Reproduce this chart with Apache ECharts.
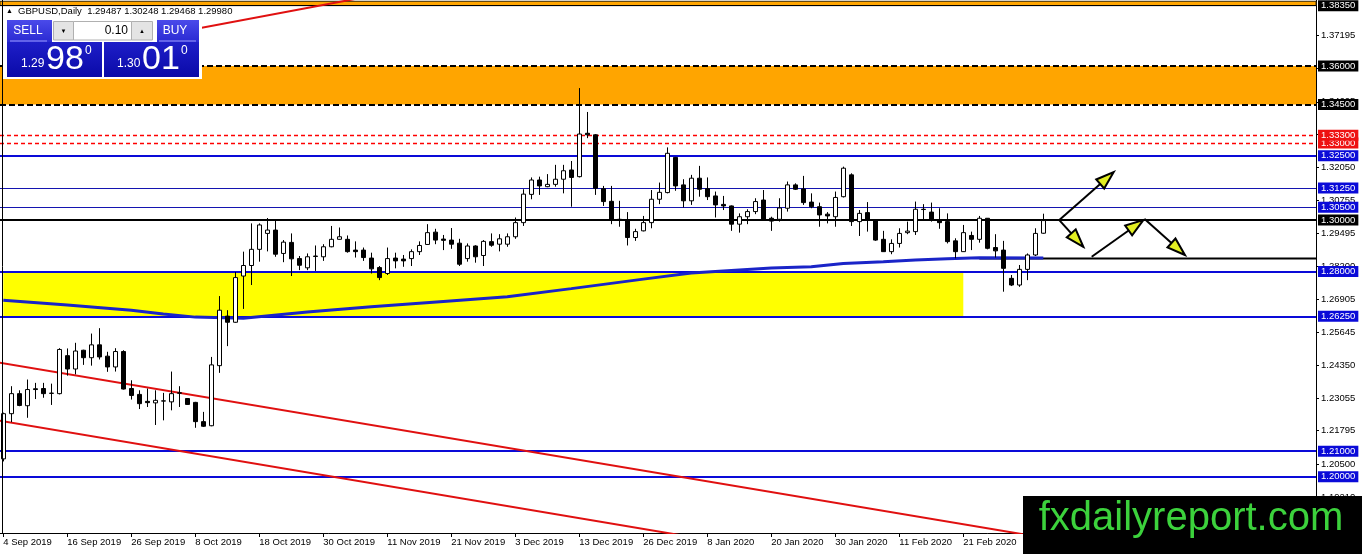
<!DOCTYPE html>
<html><head><meta charset="utf-8">
<script src="https://cdn.jsdelivr.net/npm/echarts@6/dist/echarts.min.js"></script>
<style>html,body{margin:0;padding:0;background:#fff}#c{width:1362px;height:554px}</style>
</head><body><div id="c"></div>
<script>
// ---------- data ----------
const dateLabels = ["4 Sep 2019","16 Sep 2019","26 Sep 2019","8 Oct 2019","18 Oct 2019","30 Oct 2019","11 Nov 2019","21 Nov 2019","3 Dec 2019","13 Dec 2019","26 Dec 2019","8 Jan 2020","20 Jan 2020","30 Jan 2020","11 Feb 2020","21 Feb 2020"];
const tickBars = [0,8,16,24,32,40,48,56,64,72,80,88,96,104,112,120];

const opens = [
1.2070,1.2246,1.2324,1.2277,1.2343,1.2344,1.2325,1.2324,1.2472,1.2420,
1.2493,1.2464,1.2514,1.2470,1.2428,1.2488,1.2344,1.2321,1.2294,1.2288,
1.2295,1.2292,1.2327,1.2305,1.2290,1.2215,1.2199,1.2433,1.2626,1.2602,
1.2782,1.2823,1.2886,1.2948,1.2961,1.2870,1.2913,1.2850,1.2814,1.2858,
1.2857,1.2896,1.2925,1.2925,1.2883,1.2883,1.2852,1.2815,1.2792,1.2852,
1.2848,1.2850,1.2877,1.2905,1.2953,1.2926,1.2922,1.2910,1.2850,1.2899,
1.2862,1.2916,1.2906,1.2906,1.2935,1.2990,1.3100,1.3156,1.3130,1.3139,
1.3159,1.3195,1.3169,1.3338,1.3332,1.3122,1.3073,1.3003,1.3000,1.2932,
1.2958,1.2990,1.3081,1.3107,1.3244,1.3137,1.3075,1.3163,1.3122,1.3094,
1.3061,1.3055,1.2984,1.3013,1.3033,1.3078,1.3007,1.3003,1.3046,1.3137,
1.3121,1.3070,1.3052,1.3023,1.3013,1.3091,1.3176,1.2994,1.3029,1.3000,
1.2925,1.2877,1.2909,1.2951,1.2955,1.3042,1.3031,1.3000,1.2994,1.2919,
1.2877,1.2940,1.2925,1.3007,1.2893,1.2883,1.2773,1.2747,1.2808,1.2864,
1.29487];
const highs = [
1.2250,1.2353,1.2337,1.2379,1.2366,1.2366,1.2363,1.2501,1.2500,1.2522,
1.2495,1.2558,1.2579,1.2487,1.2501,1.2493,1.2376,1.2337,1.2344,1.2337,
1.2327,1.2410,1.2353,1.2307,1.2292,1.2253,1.2467,1.2704,1.2649,1.2798,
1.2877,1.2987,1.2987,1.3008,1.3000,1.2922,1.2948,1.2860,1.2870,1.2901,
1.2906,1.2977,1.2971,1.2940,1.2917,1.2893,1.2873,1.2821,1.2893,1.2873,
1.2864,1.2886,1.2917,1.2984,1.2966,1.2942,1.2969,1.2927,1.2909,1.2902,
1.2922,1.2948,1.2945,1.2948,1.3010,1.3120,1.3166,1.3169,1.3179,1.3215,
1.3215,1.3230,1.3514,1.3421,1.3335,1.3133,1.3133,1.3075,1.3031,1.2966,
1.3016,1.3117,1.3146,1.3283,1.3246,1.3159,1.3176,1.3211,1.3166,1.3111,
1.3094,1.3057,1.3026,1.3042,1.3085,1.3117,1.3013,1.3085,1.3150,1.3143,
1.3172,1.3104,1.3068,1.3031,1.3111,1.3208,1.3182,1.3039,1.3070,1.3002,
1.2958,1.2925,1.2968,1.2994,1.3072,1.3062,1.3068,1.3046,1.3026,1.2929,
1.2981,1.2955,1.3016,1.3008,1.2945,1.2919,1.2786,1.2825,1.2870,1.2968,
1.30248];
const lows = [
1.2060,1.2213,1.2275,1.2230,1.2303,1.2308,1.2280,1.2321,1.2394,1.2399,
1.2436,1.2433,1.2457,1.2409,1.2410,1.2340,1.2301,1.2264,1.2272,1.2202,
1.2220,1.2259,1.2272,1.2280,1.2191,1.2194,1.2197,1.2405,1.2509,1.2600,
1.2654,1.2747,1.2838,1.2878,1.2857,1.2836,1.2782,1.2805,1.2805,1.2802,
1.2841,1.2894,1.2924,1.2873,1.2854,1.2841,1.2792,1.2766,1.2786,1.2812,
1.2818,1.2821,1.2864,1.2903,1.2906,1.2883,1.2888,1.2821,1.2838,1.2834,
1.2821,1.2896,1.2878,1.2896,1.2927,1.2977,1.3081,1.3098,1.3128,1.3130,
1.3104,1.3052,1.3166,1.3319,1.3098,1.3055,1.2984,1.2974,1.2901,1.2919,
1.2956,1.2968,1.3062,1.3104,1.3114,1.3049,1.3059,1.3091,1.3078,1.3010,
1.3039,1.2958,1.2951,1.2984,1.3023,1.3000,1.2958,1.2994,1.3033,1.3117,
1.3059,1.3046,1.2974,1.2987,1.2974,1.3088,1.2977,1.2938,1.2955,1.2919,
1.2876,1.2867,1.2893,1.2945,1.2942,1.3003,1.2994,1.2966,1.2909,1.2851,
1.2876,1.2883,1.2912,1.2886,1.2854,1.2721,1.2743,1.2740,1.2766,1.2860,
1.29468];
const closes = [
1.2246,1.2324,1.2278,1.2340,1.2340,1.2324,1.2326,1.2496,1.2420,1.2490,
1.2464,1.2514,1.2467,1.2428,1.2488,1.2342,1.2317,1.2285,1.2289,1.2298,
1.2296,1.2324,1.2326,1.2282,1.2215,1.2197,1.2436,1.2649,1.2602,1.2776,
1.2823,1.2886,1.2981,1.2961,1.2867,1.2914,1.2849,1.2824,1.2857,1.2860,
1.2896,1.2925,1.2935,1.2877,1.2877,1.2854,1.2810,1.2776,1.2850,1.2841,
1.2841,1.2877,1.2901,1.2951,1.2922,1.2921,1.2906,1.2828,1.2899,1.2857,
1.2917,1.2902,1.2927,1.2935,1.2990,1.3101,1.3156,1.3133,1.3139,1.3159,
1.3192,1.3166,1.3335,1.3332,1.3124,1.3072,1.3003,1.3000,1.2932,1.2955,
1.2990,1.3081,1.3108,1.3260,1.3133,1.3075,1.3163,1.3120,1.3091,1.3059,
1.3055,1.2984,1.3013,1.3033,1.3072,1.3003,1.2996,1.3047,1.3137,1.3120,
1.3068,1.3052,1.3020,1.3016,1.3088,1.3202,1.2994,1.3026,1.3000,1.2922,
1.2877,1.2909,1.2948,1.2957,1.3042,1.3041,1.3000,1.2990,1.2916,1.2877,
1.2951,1.2925,1.3007,1.2890,1.2880,1.2812,1.2747,1.2808,1.2864,1.2948,
1.29980];

// moving average read at sample bars [bar, price]
const maPoints = [[0,1.2688],[8,1.2669],[16,1.2649],[20,1.2634],[24,1.2622],[30,1.2618],[38,1.2642],[46,1.2662],[55,1.2683],[63,1.2701],[71,1.2733],[80,1.2770],[86,1.2794],[96,1.2813],[101,1.2818],[105,1.2831],[110,1.2838],[114,1.2844],[118,1.2849],[122,1.2853],[130,1.2852]];

const yTickValues = [1.19210,1.20500,1.21795,1.23055,1.24350,1.25645,1.26905,1.28200,1.29495,1.30755,1.32050,1.33340,1.34605,1.35900,1.37195];

const blackLevels = [1.3835, 1.30];
const dashedBlackLevels = [1.36, 1.345];
const redLevels = [1.330, 1.333];
const blueThickLevels = [1.325, 1.28, 1.2625, 1.21, 1.20];
const blueThinLevels = [1.3125, 1.305];

const topBand = [1.3835, 1.3852];
const orangeZone = [1.345, 1.36];
const yellowZoneBars = [0, 120];
const yellowZonePrices = [1.2625, 1.28];

const redTopLine = [[0,1.3604],[45,1.3867]];
const channelUpper = [[-1,1.24472],[130,1.17632]];
const channelLower = [[-1,1.22213],[90,1.17448]];
const supportLine = [[122,1.2850],[170,1.2850]];
const arrows = [[132.0,1.3000,138.8,1.3187],[132.0,1.3000,135.0,1.2896],[136.05,1.2857,142.5,1.3000],[142.7,1.3003,147.7,1.2864]];

// ---------- chart ----------
const FONT = 'Liberation Sans';
const XMIN = -0.4125, XMAX = XMIN + 1316/8;
const YMIN = 1.17813, YMAX = 1.38570;
const BLUE = '#0a0ad8';

const candleData = opens.map((o,i)=>[i, o, closes[i], lows[i], highs[i]]);

function lvl(p, color, width, type, bg){
  return {yAxis:p, lineStyle:{color:color, width:width, type:type, opacity:1}, label:{backgroundColor:bg}};
}
const markLines = [];
blackLevels.forEach(p=>markLines.push(lvl(p,'#000',p===1.30?2:1,'solid','#000')));
dashedBlackLevels.forEach(p=>markLines.push(lvl(p,'#000',2,[6,3],'#000')));
redLevels.forEach(p=>markLines.push(lvl(p,'#ff0000',1.3,[4,3],'#ee1111')));
blueThinLevels.forEach(p=>markLines.push(lvl(p,'#1414b0',1,'solid',BLUE)));
blueThickLevels.forEach(p=>markLines.push(lvl(p,BLUE,2,'solid',BLUE)));

function grad(a,b){return new echarts.graphic.LinearGradient(0,0,0,1,[{offset:0,color:a},{offset:1,color:b}]);}
function txt(t,x,y,size,color,align,extra){
  return Object.assign({type:'text', z:110, style:{text:t, x:x, y:y, fill:color, font:size+'px "'+FONT+'"', align:align||'left', verticalAlign:'middle'}}, extra||{});
}

const chart = echarts.init(document.getElementById('c'), null, {renderer:'canvas'});
chart.setOption({
  animation:false,
  backgroundColor:'#ffffff',
  grid:{left:0, right:46, top:0, bottom:21, containLabel:false},
  xAxis:{type:'value', min:XMIN, max:XMAX,
    axisLine:{show:true, onZero:false, lineStyle:{color:'#000', width:1}},
    axisTick:{show:true, length:4, customValues:tickBars, lineStyle:{color:'#000'}},
    axisLabel:{customValues:tickBars, align:'left', margin:4, color:'#000', fontSize:9.5, fontFamily:FONT,
      formatter:v=>dateLabels[tickBars.indexOf(Math.round(v))] || ''},
    splitLine:{show:false}},
  yAxis:{type:'value', position:'right', min:YMIN, max:YMAX,
    axisLine:{show:true, onZero:false, lineStyle:{color:'#000', width:1}},
    axisTick:{show:true, length:3, customValues:yTickValues, lineStyle:{color:'#000'}},
    axisLabel:{customValues:yTickValues, formatter:v=>v.toFixed(5), color:'#000', fontSize:9.5, fontFamily:FONT, margin:5},
    splitLine:{show:false}},
  series:[
    {type:'candlestick', name:'GBPUSD', z:4, silent:true, barWidth:4,
     data:candleData,
     itemStyle:{color:'#ffffff', color0:'#000000', borderColor:'#000000', borderColor0:'#000000', borderColorDoji:'#000000', borderWidth:1},
     markArea:{silent:true, z:1,
       data:[
         [{xAxis:XMIN, yAxis:orangeZone[0], itemStyle:{color:'#ffa500'}},{xAxis:XMAX, yAxis:orangeZone[1]}],
         [{xAxis:yellowZoneBars[0], yAxis:yellowZonePrices[0], itemStyle:{color:'#ffff00'}},{xAxis:yellowZoneBars[1], yAxis:yellowZonePrices[1]}],
         [{xAxis:XMIN, yAxis:topBand[0], itemStyle:{color:'#ffa500', borderColor:'#3a2a00', borderWidth:1}},{xAxis:XMAX, yAxis:topBand[1]}]
       ]},
     markLine:{silent:true, z:2, symbol:['none','none'], precision:5,
       label:{show:true, position:'end', distance:2, color:'#fff', fontSize:9.5, fontFamily:FONT, padding:[1,3,0,3],
         formatter:p=>Number(p.value).toFixed(5)},
       data:markLines}
    },
    {type:'line', z:3, silent:true, symbol:'none', data:channelUpper, lineStyle:{color:'#e01010', width:2}},
    {type:'line', z:3, silent:true, symbol:'none', data:channelLower, lineStyle:{color:'#e01010', width:2}},
    {type:'line', z:3, silent:true, symbol:'none', data:redTopLine, lineStyle:{color:'#e01010', width:2}},
    {type:'line', z:3, silent:true, symbol:'none', data:supportLine, lineStyle:{color:'#000', width:2}},
    {type:'line', z:3, silent:true, symbol:'none', data:maPoints, lineStyle:{color:'#1a24c8', width:3}},
    {type:'custom', z:6, silent:true, clip:false, data:arrows, encode:{x:[0,2], y:[1,3]},
     renderItem:function(params, api){
       const a = api.coord([api.value(0), api.value(1)]);
       const b = api.coord([api.value(2), api.value(3)]);
       const dx=b[0]-a[0], dy=b[1]-a[1], len=Math.hypot(dx,dy), ux=dx/len, uy=dy/len;
       const L=18, W=6;
       const bx=b[0]-ux*L, by=b[1]-uy*L;
       return {type:'group', children:[
         {type:'line', shape:{x1:a[0],y1:a[1],x2:bx,y2:by}, style:{stroke:'#000', lineWidth:2}},
         {type:'polygon', shape:{points:[[b[0],b[1]],[bx-uy*W,by+ux*W],[bx+uy*W,by-ux*W]]}, style:{fill:'#e2ee22', stroke:'#000', lineWidth:2}}
       ]};
     }}
  ],
  graphic:[
    {type:'line', z:50, shape:{x1:2.5,y1:0,x2:2.5,y2:533}, style:{stroke:'#000', lineWidth:1}},
    // header
    txt('\u25B2', 6, 11, 7, '#000'),
    txt('GBPUSD,Daily  1.29487 1.30248 1.29468 1.29980', 18, 11, 9.5, '#000'),
    // one-click trading panel
    {type:'rect', z:100, shape:{x:3,y:17,width:199,height:62}, style:{fill:'#ffffff'}},
    {type:'rect', z:101, shape:{x:7,y:20,width:45,height:22}, style:{fill:grad('#4a4aea','#2a2ad2')}},
    {type:'rect', z:101, shape:{x:157,y:20,width:42,height:22}, style:{fill:grad('#4a4aea','#2a2ad2')}},
    {type:'line', z:102, shape:{x1:10,y1:41,x2:47,y2:41}, style:{stroke:'#9a9aff', lineWidth:1}},
    {type:'line', z:102, shape:{x1:159,y1:41,x2:196,y2:41}, style:{stroke:'#9a9aff', lineWidth:1}},
    {type:'rect', z:101, shape:{x:53.5,y:21.5,width:20,height:18.5}, style:{fill:'#e4e4e4', stroke:'#b0b0b0', lineWidth:1}},
    {type:'rect', z:101, shape:{x:73.5,y:21.5,width:58,height:18.5}, style:{fill:'#ffffff', stroke:'#b0b0b0', lineWidth:1}},
    {type:'rect', z:101, shape:{x:131.5,y:21.5,width:21,height:18.5}, style:{fill:'#e4e4e4', stroke:'#b0b0b0', lineWidth:1}},
    {type:'rect', z:101, shape:{x:7,y:42,width:95,height:35}, style:{fill:grad('#1e1ec8','#0a0aa8')}},
    {type:'rect', z:101, shape:{x:104,y:42,width:95,height:35}, style:{fill:grad('#1e1ec8','#0a0aa8')}},
    txt('SELL', 28, 31, 12, '#fff', 'center'),
    txt('BUY', 175, 31, 12, '#fff', 'center'),
    txt('\u25BC', 63.5, 31, 6, '#000', 'center'),
    txt('\u25B2', 142, 31, 6, '#000', 'center'),
    txt('0.10', 128, 31, 12, '#000', 'right'),
    txt('1.29', 21, 64, 12, '#fff'),
    txt('98', 46, 60, 34, '#fff'),
    txt('0', 85, 51, 12, '#fff'),
    txt('1.30', 117, 64, 12, '#fff'),
    txt('01', 142, 60, 34, '#fff'),
    txt('0', 181, 51, 12, '#fff'),
    // logo
    {type:'rect', z:120, shape:{x:1023,y:496,width:339,height:58}, style:{fill:'#000'}},
    Object.assign(txt('fxdailyreport.com', 1191, 519, 40, '#3cd23c', 'center'), {z:121})
  ]
});
</script></body></html>
